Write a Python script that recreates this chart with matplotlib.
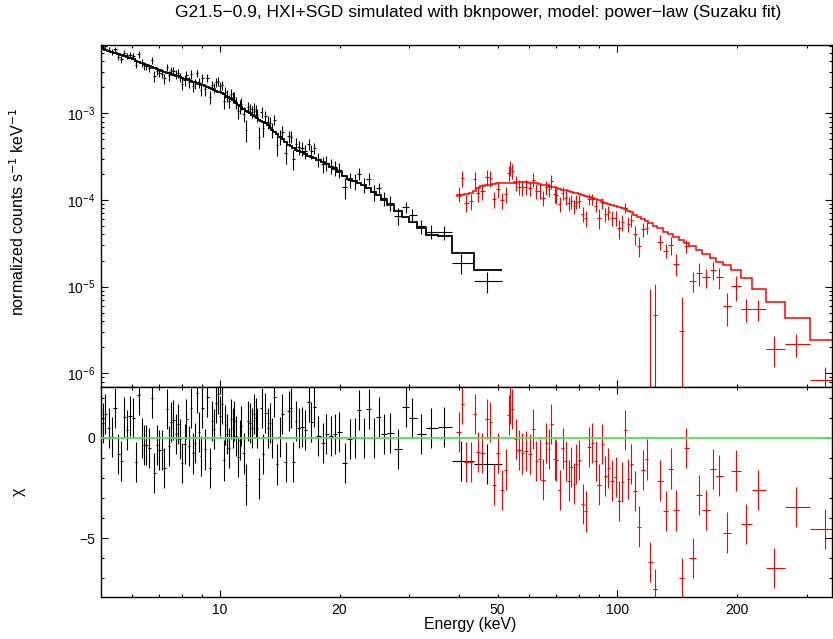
import numpy as np
from matplotlib import pyplot
from matplotlib import ticker

pyplot.rcParams['font.family'] = ['Liberation Sans', 'DejaVu Sans']
pyplot.rcParams['font.size'] = 9.5

# HXI (black): bin centres (keV), model (counts/s/keV), chi residuals, relative errors
hxi_energy = [5.015, 5.06, 5.13, 5.24, 5.33, 5.44, 5.54, 5.63, 5.74, 5.83,
              5.93, 6.04, 6.14, 6.24, 6.35, 6.44, 6.52, 6.64, 6.73, 6.83,
              6.94, 7.03, 7.14, 7.24, 7.34, 7.44, 7.51, 7.63, 7.73, 7.84,
              7.91, 8.03, 8.15, 8.23, 8.34, 8.44, 8.55, 8.65, 8.73, 8.84,
              8.93, 9.03, 9.15, 9.29, 9.42, 9.55, 9.66, 9.78, 9.89, 10.0,
              10.12, 10.22, 10.32, 10.42, 10.54, 10.64, 10.76, 10.87, 11.0, 11.13,
              11.21, 11.32, 11.46, 11.63, 11.79, 11.91, 12.05, 12.16, 12.30, 12.40,
              12.57, 12.72, 12.86, 13.01, 13.19, 13.38, 13.53, 13.71, 13.90, 14.15,
              14.34, 14.62, 14.88, 15.05, 15.31, 15.55, 15.79, 16.07, 16.39, 16.71,
              16.97, 17.27, 17.67, 18.15, 18.54, 18.98, 19.46, 19.96, 20.59, 21.23,
              21.86, 22.42, 22.99, 23.66, 24.36, 25.08, 25.86, 26.85, 28.12, 29.34,
              30.50, 32.06, 34.06, 36.57, 40.36, 46.95]
hxi_edge_lo, hxi_edge_hi = 4.99, 51.2
hxi_model = [5.65e-3, 5.57e-3, 5.44e-3, 5.24e-3, 5.07e-3, 4.96e-3, 4.82e-3, 4.69e-3, 4.56e-3, 4.45e-3,
             4.33e-3, 4.20e-3, 4.06e-3, 3.94e-3, 3.81e-3, 3.71e-3, 3.62e-3, 3.50e-3, 3.42e-3, 3.31e-3,
             3.23e-3, 3.15e-3, 3.07e-3, 3.02e-3, 2.95e-3, 2.88e-3, 2.85e-3, 2.78e-3, 2.73e-3, 2.67e-3,
             2.63e-3, 2.57e-3, 2.51e-3, 2.46e-3, 2.41e-3, 2.37e-3, 2.31e-3, 2.27e-3, 2.24e-3, 2.19e-3,
             2.15e-3, 2.11e-3, 2.06e-3, 2.00e-3, 1.95e-3, 1.90e-3, 1.86e-3, 1.82e-3, 1.78e-3, 1.76e-3,
             1.70e-3, 1.65e-3, 1.60e-3, 1.56e-3, 1.51e-3, 1.47e-3, 1.42e-3, 1.37e-3, 1.31e-3, 1.26e-3,
             1.23e-3, 1.18e-3, 1.13e-3, 1.07e-3, 1.03e-3, 9.95e-4, 9.62e-4, 9.36e-4, 9.05e-4, 8.83e-4,
             8.48e-4, 8.19e-4, 7.92e-4, 7.65e-4, 7.27e-4, 6.83e-4, 6.48e-4, 6.09e-4, 5.73e-4, 5.29e-4,
             5.00e-4, 4.62e-4, 4.30e-4, 4.15e-4, 3.98e-4, 3.82e-4, 3.69e-4, 3.54e-4, 3.37e-4, 3.23e-4,
             3.13e-4, 3.03e-4, 2.89e-4, 2.73e-4, 2.58e-4, 2.43e-4, 2.28e-4, 2.10e-4, 1.87e-4, 1.74e-4,
             1.65e-4, 1.58e-4, 1.50e-4, 1.37e-4, 1.24e-4, 1.13e-4, 1.01e-4, 8.8e-5, 7.4e-5, 6.3e-5,
             5.6e-5, 4.8e-5, 3.95e-5, 3.8e-5, 2.45e-5, 1.56e-5]
hxi_chi = [1.0, 0.75, 1.17, 0.5, 0.05, 1.5, -0.8, -1.17, 1.03, 0.37,
           1.1, 1.0, -1.2, 2.13, -0.03, -0.38, -0.38, -0.5, 1.97, -1.75,
           -0.38, -0.6, -0.6, -1.5, 1.42, -0.42, 0.8, 0.87, 0.2, 0.7,
           -0.08, -1.25, -0.3, 0.95, -0.42, 1.47, -0.78, -0.25, 2.25, 0.3,
           -0.92, 1.47, -0.58, 2.05, -1.5, 0.83, 0.42, 1.75, 2.17, 1.08,
           1.67, -1.13, 0.63, 0.17, -0.5, 0.92, 0.5, 0.83, 0.08, -0.97,
           -0.13, 0.58, -0.78, -2.33, 0.83, 0.75, 0.5, 1.17, 1.0, 0.5,
           -2.03, 1.5, -0.8, 1.25, 0.5, 0.75, 0.0, 2.03, -1.33, 0.05,
           1.17, -1.2, 1.33, 1.47, -1.22, 0.83, 0.5, 0.55, 0.38, 1.8,
           0.8, 1.53, 0.1, -0.28, 0.2, 0.08, 0.2, 0.3, -1.25, -0.08,
           -0.03, 1.38, -0.03, 1.42, -0.03, 1.03, 0.17, 0.25, -0.55, 1.55,
           0.97, 0.2, 0.47, 0.55, -1.17, -1.3]
hxi_relerr = [0.075, 0.075, 0.075, 0.075, 0.075, 0.075, 0.085, 0.085, 0.085, 0.085,
              0.085, 0.085, 0.085, 0.10, 0.10, 0.10, 0.10, 0.10, 0.10, 0.11,
              0.11, 0.11, 0.11, 0.11, 0.11, 0.12, 0.12, 0.12, 0.12, 0.12,
              0.12, 0.12, 0.13, 0.13, 0.13, 0.13, 0.13, 0.13, 0.13, 0.14,
              0.14, 0.14, 0.14, 0.14, 0.14, 0.14, 0.15, 0.15, 0.15, 0.15,
              0.15, 0.15, 0.15, 0.16, 0.16, 0.16, 0.16, 0.16, 0.16, 0.16,
              0.17, 0.17, 0.17, 0.17, 0.17, 0.17, 0.17, 0.18, 0.18, 0.18,
              0.18, 0.18, 0.18, 0.18, 0.19, 0.19, 0.19, 0.19, 0.19, 0.19,
              0.19, 0.20, 0.20, 0.20, 0.20, 0.20, 0.20, 0.20, 0.20, 0.20,
              0.20, 0.20, 0.20, 0.20, 0.20, 0.20, 0.20, 0.20, 0.20, 0.20,
              0.20, 0.20, 0.20, 0.20, 0.20, 0.20, 0.20, 0.20, 0.20, 0.20,
              0.20, 0.20, 0.20, 0.20, 0.20, 0.20]

# SGD (red)
sgd_energy = [39.9, 40.77, 41.73, 42.96, 43.79, 44.64, 45.79, 47.14, 47.97, 48.90,
              50.12, 51.3, 52.41, 53.33, 53.86, 54.48, 55.53, 56.62, 57.74, 59.10,
              60.24, 61.56, 62.64, 63.85, 65.10, 66.37, 67.39, 68.33, 69.66, 70.35,
              71.71, 73.10, 74.25, 75.56, 76.75, 77.79, 79.02, 80.08, 81.82, 83.40,
              85.01, 86.50, 88.23, 90.09, 91.67, 93.29, 94.92, 96.96, 99.24, 101.2,
              102.9, 104.8, 106.6, 108.5, 110.8, 113.6, 116.3, 118.8, 121.1, 124.5,
              128.2, 132.7, 136.6, 140.8, 145.3, 149.3, 154.9, 160.9, 167.3, 174.6,
              180.8, 188.7, 198.8, 210.8, 226.7, 248.4, 281.7, 333.9]
sgd_edge_lo, sgd_edge_hi = 39.3, 370.0
sgd_model = [1.11e-4, 1.135e-4, 1.17e-4, 1.21e-4, 1.27e-4, 1.36e-4, 1.45e-4, 1.47e-4, 1.49e-4, 1.52e-4,
             1.55e-4, 1.56e-4, 1.57e-4, 1.59e-4, 1.59e-4, 1.59e-4, 1.60e-4, 1.61e-4, 1.61e-4, 1.60e-4,
             1.59e-4, 1.58e-4, 1.56e-4, 1.53e-4, 1.50e-4, 1.47e-4, 1.46e-4, 1.43e-4, 1.40e-4, 1.38e-4,
             1.35e-4, 1.31e-4, 1.29e-4, 1.26e-4, 1.23e-4, 1.21e-4, 1.19e-4, 1.17e-4, 1.15e-4, 1.11e-4,
             1.09e-4, 1.06e-4, 1.03e-4, 1.00e-4, 9.6e-5, 9.3e-5, 9.1e-5, 8.85e-5, 8.6e-5, 8.35e-5,
             8.07e-5, 7.77e-5, 7.48e-5, 7.19e-5, 6.71e-5, 6.35e-5, 5.97e-5, 5.66e-5, 5.40e-5, 5.05e-5,
             4.69e-5, 4.32e-5, 4.07e-5, 3.73e-5, 3.43e-5, 3.18e-5, 2.92e-5, 2.67e-5, 2.41e-5, 2.13e-5,
             1.93e-5, 1.76e-5, 1.54e-5, 1.25e-5, 9.5e-6, 6.7e-6, 4.39e-6, 2.41e-6]
sgd_chi = [0.3, 1.7, -1.2, -1.2, 1.2, -0.7, -0.75, 0.92, 0.8, -2.33,
           -0.75, -2.58, -1.58, 1.12, 1.7, 1.42, -0.08, -0.62, -0.78, -0.67,
           -0.8, 0.45, -1.17, -1.08, -2.08, -0.25, -0.55, 0.7, -1.08, -1.13,
           -2.58, -0.53, -1.17, -2.13, -1.45, -2.28, -1.3, -1.12, -3.28, -3.67,
           -0.47, -0.25, -1.17, -2.33, -0.33, -1.92, -1.5, -2.13, -1.97, -3.13,
           -2.22, 0.37, -2.05, -1.3, -2.63, -4.42, -1.62, -1.08, -6.17, -7.55,
           -2.13, -3.63, -1.53, -3.62, -7.0, -0.5, -6.0, -2.87, -3.58, -1.55,
           -1.88, -4.72, -1.63, -4.3, -2.58, -6.47, -3.45, -4.53]
sgd_relerr = [0.22, 0.33, 0.17, 0.17, 0.30, 0.18, 0.18, 0.26, 0.25, 0.14,
              0.18, 0.14, 0.16, 0.26, 0.28, 0.26, 0.20, 0.18, 0.17, 0.17,
              0.17, 0.20, 0.16, 0.16, 0.14, 0.18, 0.17, 0.21, 0.16, 0.16,
              0.13, 0.16, 0.15, 0.13, 0.15, 0.13, 0.15, 0.15, 0.12, 0.12,
              0.14, 0.14, 0.14, 0.16, 0.14, 0.14, 0.14, 0.14, 0.14, 0.14,
              0.14, 0.14, 0.14, 0.14, 0.15, 0.12, 0.14, 0.14, 0.16, 0.12,
              0.14, 0.11, 0.17, 0.14, 0.13, 0.15, 0.10, 0.16, 0.13, 0.17,
              0.18, 0.14, 0.21, 0.13, 0.16, 0.11, 0.145, 0.145]

title = 'G21.5\u22120.9, HXI+SGD simulated with bknpower, model: power\u2212law (Suzaku fit)'


def bin_edges(centres, lo, hi):
    c = np.asarray(centres)
    return np.concatenate([[lo], np.sqrt(c[:-1] * c[1:]), [hi]])


fig = pyplot.figure(figsize=(8.33, 6.39), dpi=100)
W, H = 833.0, 639.0
ax1 = fig.add_axes([100.5 / W, 1 - 387 / H, 731.5 / W, 342 / H])
ax2 = fig.add_axes([100.5 / W, 1 - 597 / H, 731.5 / W, 210 / H], sharex=ax1)

datasets = [
    (hxi_energy, hxi_edge_lo, hxi_edge_hi, hxi_model, hxi_chi, hxi_relerr, 'black', 1.3),
    (sgd_energy, sgd_edge_lo, sgd_edge_hi, sgd_model, sgd_chi, sgd_relerr, '#ff0000', 1.1),
]

for energy, lo, hi, model, chi, relerr, color, mlw in datasets:
    energy = np.asarray(energy)
    edges = bin_edges(energy, lo, hi)
    model = np.asarray(model)
    chi = np.asarray(chi)
    err = np.asarray(relerr) * model
    rate = model + chi * err
    xerr = [energy - edges[:-1], edges[1:] - energy]

    ax1.errorbar(energy, rate, xerr=xerr, yerr=err, fmt='none', ecolor=color, elinewidth=0.8)
    ax1.stairs(model, edges, baseline=None, color=color, linewidth=mlw, zorder=3)
    ax2.errorbar(energy, chi, xerr=xerr, yerr=1.0, fmt='none', ecolor=color, elinewidth=0.8)

ax2.axhline(0, color='#55dd55', linewidth=1.3, zorder=4)

ax1.set_xscale('log')
ax1.set_yscale('log')
ax1.set_xlim(5.0, 347.7)
ax1.set_ylim(6.95e-7, 6.14e-3)
ax2.set_ylim(-7.93, 2.53)

ax1.xaxis.set_major_locator(ticker.FixedLocator([10, 100]))
ax1.xaxis.set_minor_locator(ticker.FixedLocator([6, 7, 8, 9, 20, 30, 40, 50, 60, 70, 80, 90, 200, 300]))
ax1.xaxis.set_major_formatter(ticker.FuncFormatter(lambda v, p: '%d' % v))
ax1.xaxis.set_minor_formatter(ticker.FuncFormatter(lambda v, p: '%d' % v if v in (20, 50, 200) else ''))
ax1.yaxis.set_major_locator(ticker.LogLocator(base=10, subs=(1.0,)))
ax1.yaxis.set_minor_locator(ticker.LogLocator(base=10, subs=np.arange(2, 10)))
ax1.yaxis.set_minor_formatter(ticker.NullFormatter())
ax2.yaxis.set_major_locator(ticker.MultipleLocator(5))
ax2.yaxis.set_minor_locator(ticker.MultipleLocator(1))

for ax in (ax1, ax2):
    ax.tick_params(which='both', direction='in', top=True, right=True, width=0.8, labelsize=10, pad=4)
    ax.tick_params(which='major', length=4.8)
    ax.tick_params(which='minor', length=2.4)
    for s in ax.spines.values():
        s.set_linewidth(1.0)
ax1.tick_params(which='both', labelbottom=False)

fig.text(478 / W, 1 - 13 / H, title, ha='center', va='center', fontsize=12.5)
fig.text(470 / W, 1 - 625 / H, 'Energy (keV)', ha='center', va='center', fontsize=11.3)
fig.text(18 / W, 1 - 212 / H, 'normalized counts s$^{-1}$ keV$^{-1}$', rotation=90,
         ha='center', va='center', fontsize=11.5)
fig.text(18 / W, 1 - 492 / H, '\u03c7', rotation=90, ha='center', va='center', fontsize=11.5)

pyplot.savefig('out.png', dpi=100)
